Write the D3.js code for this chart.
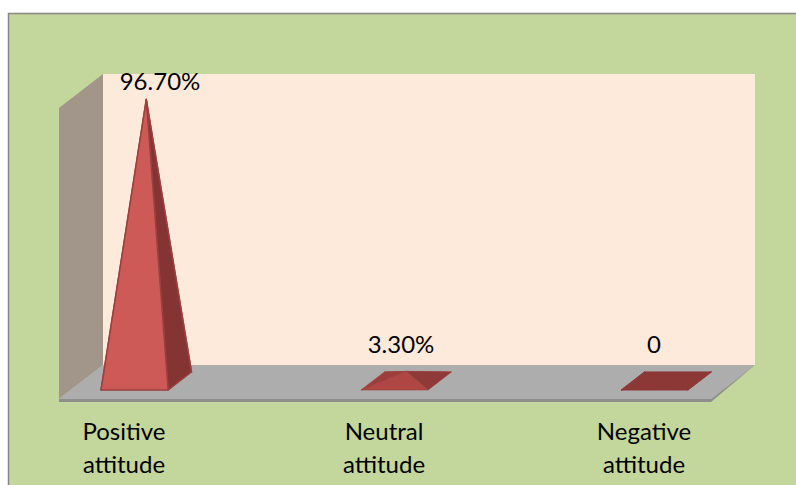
<!DOCTYPE html>
<html>
<head>
<meta charset="utf-8">
<script src="https://cdn.jsdelivr.net/npm/d3@7"></script>
<style>
  html, body { margin: 0; padding: 0; background: #fff; }
  svg { display: block; }
  text { font-family: Lato, "Open Sans", sans-serif; fill: #000; }
</style>
</head>
<body>
<svg id="chart" width="796" height="485"></svg>
<script>
const categories = [["Positive", "attitude"], ["Neutral", "attitude"], ["Negative", "attitude"]];
const values = [96.7, 3.3, 0];
const valueLabels = ["96.70%", "3.30%", "0"];

const svg = d3.select("#chart");

// chart area
svg.append("rect")
  .attr("x", 8.5).attr("y", 13.5)
  .attr("width", 800).attr("height", 490)
  .attr("fill", "#c3d69b")
  .attr("stroke", "#868686")
  .attr("stroke-width", 1.5);

// front plane of the 3d box, the depth goes up and to the right
const xScale = d3.scaleBand()
  .domain(d3.range(categories.length))
  .range([59, 711])
  .paddingInner(0.742)
  .paddingOuter(0.125)
  .align(0.468);
const yScale = d3.scaleLinear().domain([0, 100]).range([399, 108]);
const depth = { x: 44, y: -34 };

const line = d3.line();
const poly = (pts) => line(pts) + "Z";

const x0 = xScale.range()[0];
const x1 = xScale.range()[1];
const yBase = yScale(0);
const yTop = yScale(100);

// back wall
svg.append("path")
  .attr("d", poly([
    [x0 + depth.x, yTop + depth.y], [x1 + depth.x, yTop + depth.y],
    [x1 + depth.x, yBase + depth.y], [x0 + depth.x, yBase + depth.y],
  ]))
  .attr("fill", "#fdeada");

// side wall
svg.append("path")
  .attr("d", poly([
    [x0, yTop], [x0 + depth.x, yTop + depth.y],
    [x0 + depth.x, yBase + depth.y], [x0, yBase],
  ]))
  .attr("fill", "#a2958a");

// floor
svg.append("path")
  .attr("d", poly([
    [x0, yBase], [x1, yBase],
    [x1 + depth.x, yBase + depth.y], [x0 + depth.x, yBase + depth.y],
  ]))
  .attr("fill", "#adadad");

svg.append("path")
  .attr("d", poly([
    [x0, yBase], [x1, yBase], [x1, yBase + 3], [x0, yBase + 3],
  ]))
  .attr("fill", "#8e8e8e");
svg.append("path")
  .attr("d", poly([
    [x1, yBase + 3], [x1 + depth.x, yBase + depth.y], [x1, yBase],
  ]))
  .attr("fill", "#8e8e8e");

// pyramids
const barFront = 0.265;  // share of the box depth in front of the base
const barBack = 0.795;
const frontFills = ["#cd5a57", "#b04644", "#8c3836"];
const leftFills = ["#a84644", "#9d3e3c", "#8c3836"];
const rightFills = ["#843533", "#8f3a38", "#8c3836"];
const edgeColors = ["#9c403e", "#9c403e", "#8c3836"];
const edgeWidths = [1.5, 0.6, 1];

const bars = svg.selectAll("g.bar")
  .data(values)
  .join("g")
  .attr("class", "bar");

bars.each(function (d, i) {
  const g = d3.select(this);
  const l = xScale(i);
  const r = l + xScale.bandwidth();
  const fl = [l + depth.x * barFront, yBase + depth.y * barFront];
  const fr = [r + depth.x * barFront, yBase + depth.y * barFront];
  const br = [r + depth.x * barBack, yBase + depth.y * barBack];
  const bl = [l + depth.x * barBack, yBase + depth.y * barBack];
  const cx = (fl[0] + br[0]) / 2;
  const cy = (fl[1] + br[1]) / 2;
  const apex = [cx, cy - (yScale(0) - yScale(d))];

  const faces = [
    { pts: [bl, br, apex], fill: rightFills[i] },
    { pts: [fl, bl, apex], fill: leftFills[i] },
    { pts: [fr, br, apex], fill: rightFills[i] },
    { pts: [fl, fr, apex], fill: frontFills[i] },
  ];
  faces.forEach((f) => {
    g.append("path")
      .attr("d", poly(f.pts))
      .attr("fill", f.fill)
      .attr("stroke", edgeColors[i])
      .attr("stroke-width", edgeWidths[i])
      .attr("stroke-linejoin", "round");
  });
});

// value labels
const labelX = [160, 401, 654];
const labelY = [82, 345, 345];
svg.selectAll("text.value")
  .data(valueLabels)
  .join("text")
  .attr("class", "value")
  .attr("x", (d, i) => labelX[i])
  .attr("y", (d, i) => labelY[i])
  .attr("dy", "0.35em")
  .attr("text-anchor", "middle")
  .attr("font-size", 24)
  .text((d) => d);

// category labels
const catX = [124, 384, 644];
const cats = svg.selectAll("text.cat")
  .data(categories)
  .join("text")
  .attr("class", "cat")
  .attr("text-anchor", "middle")
  .attr("font-size", 24);
cats.selectAll("tspan")
  .data((d, i) => d.map((t) => ({ t, x: catX[i] })))
  .join("tspan")
  .attr("x", (d) => d.x)
  .attr("y", (d, i) => 440 + i * 33)
  .text((d) => d.t);
</script>
</body>
</html>
